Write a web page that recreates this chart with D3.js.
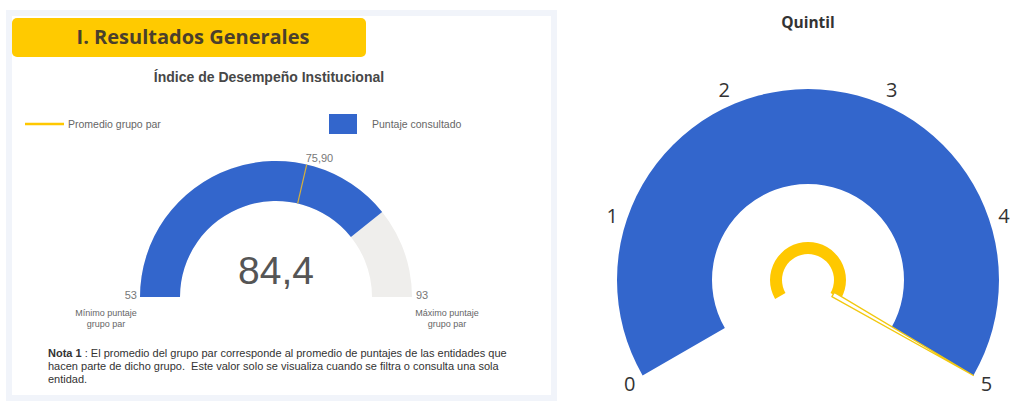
<!DOCTYPE html>
<html>
<head>
<meta charset="utf-8">
<script src="https://cdn.jsdelivr.net/npm/d3@7"></script>
<style>
  body { margin: 0; background: #ffffff; }
  svg { display: block; }
</style>
</head>
<body>
<div id="chart"></div>
<script>
// datos del indice
var gaugeMin = 53
var gaugeMax = 93
var puntaje = 84.4
var promedio = 75.90
var legendLabels = ["Promedio grupo par", "Puntaje consultado"]
var minLabel = ["Mínimo puntaje", "grupo par"]
var maxLabel = ["Máximo puntaje", "grupo par"]
var notaLines = [
  "El promedio del grupo par corresponde al promedio de puntajes de las entidades que",
  "hacen parte de dicho grupo.\u00a0 Este valor solo se visualiza cuando se filtra o consulta una sola",
  "entidad."
]

// datos del quintil
var quintilTicks = [0, 1, 2, 3, 4, 5]
var quintilValor = 5

var width = 1010
var height = 402
var blue = "#3366cc"
var yellow = "#ffc800"
var sans = "'Liberation Sans', Arial, sans-serif"

var svg = d3.select("#chart").append("svg")
    .attr("width", width)
    .attr("height", height)

// ---------- panel izquierdo ----------
svg.append("rect")
    .attr("x", 6).attr("y", 10)
    .attr("width", 551).attr("height", 391)
    .attr("fill", "#f1f4fa")
svg.append("rect")
    .attr("x", 12).attr("y", 16)
    .attr("width", 539).attr("height", 379)
    .attr("fill", "#ffffff")

svg.append("rect")
    .attr("x", 12).attr("y", 18)
    .attr("width", 354).attr("height", 39)
    .attr("rx", 5)
    .attr("fill", "#ffca00")

svg.append("text")
    .attr("x", 193).attr("y", 44)
    .attr("text-anchor", "middle")
    .attr("font-family", "'Open Sans', sans-serif")
    .attr("font-weight", "bold")
    .attr("font-size", 20)
    .attr("fill", "#4a3f2c")
    .text("I. Resultados Generales")

svg.append("text")
    .attr("x", 269).attr("y", 82)
    .attr("text-anchor", "middle")
    .attr("font-family", sans)
    .attr("font-weight", "bold")
    .attr("font-size", 14)
    .attr("fill", "#474747")
    .text("Índice de Desempeño Institucional")

// leyenda
svg.append("line")
    .attr("x1", 25).attr("x2", 64)
    .attr("y1", 124).attr("y2", 124)
    .attr("stroke", yellow).attr("stroke-width", 2.5)
svg.append("text")
    .attr("x", 68).attr("y", 128)
    .attr("font-family", sans)
    .attr("font-size", 10.5).attr("fill", "#666")
    .text(legendLabels[0])
svg.append("rect")
    .attr("x", 329).attr("y", 114)
    .attr("width", 28).attr("height", 20)
    .attr("fill", blue)
svg.append("text")
    .attr("x", 372).attr("y", 128)
    .attr("font-family", sans)
    .attr("font-size", 10.5).attr("fill", "#666")
    .text(legendLabels[1])

// gauge
const cx = 276, cy = 297, R = 136, r = 96

const angle = d3.scaleLinear()
    .domain([gaugeMin, gaugeMax])
    .range([-Math.PI / 2, Math.PI / 2])

const arc = d3.arc().innerRadius(r).outerRadius(R)

const gG = svg.append("g")
    .attr("transform", `translate(${cx}, ${cy})`)

gG.append("path")
    .attr("d", arc({startAngle: angle(gaugeMin), endAngle: angle(gaugeMax)}))
    .attr("fill", "#efeeec")
gG.append("path")
    .attr("d", arc({startAngle: angle(gaugeMin), endAngle: angle(puntaje)}))
    .attr("fill", blue)

const aP = angle(promedio)
gG.append("line")
    .attr("x1", r * Math.sin(aP)).attr("y1", -r * Math.cos(aP))
    .attr("x2", R * Math.sin(aP)).attr("y2", -R * Math.cos(aP))
    .attr("stroke", "#d8b13a").attr("stroke-width", 1.2)

gG.append("text")
    .attr("x", R * Math.sin(aP) - 1).attr("y", -R * Math.cos(aP) - 3)
    .attr("font-family", sans)
    .attr("font-size", 11).attr("fill", "#777")
    .text(d3.format(".2f")(promedio).replace(".", ","))

gG.append("text")
    .attr("x", 0).attr("y", -13)
    .attr("text-anchor", "middle")
    .attr("font-family", sans)
    .attr("font-size", 39).attr("fill", "#555")
    .text(d3.format(".1f")(puntaje).replace(".", ","))

gG.append("text")
    .attr("x", -R - 3).attr("y", 2)
    .attr("text-anchor", "end")
    .attr("font-family", sans)
    .attr("font-size", 11).attr("fill", "#777")
    .text(gaugeMin)
gG.append("text")
    .attr("x", R + 4).attr("y", 2)
    .attr("font-family", sans)
    .attr("font-size", 11).attr("fill", "#777")
    .text(gaugeMax)

const smallLabel = (lines, x) => {
    svg.append("text")
        .attr("text-anchor", "middle")
        .attr("font-family", sans)
        .attr("font-size", 9).attr("fill", "#666")
        .selectAll("tspan").data(lines)
        .enter().append("tspan")
        .attr("x", x)
        .attr("y", (d, i) => 316 + i * 11)
        .text(d => d)
}
smallLabel(minLabel, 106)
smallLabel(maxLabel, 447)

// nota
const nota = svg.append("text")
    .attr("font-family", sans)
    .attr("font-size", 11).attr("fill", "#333")
nota.append("tspan")
    .attr("x", 48).attr("y", 357)
    .attr("font-weight", "bold")
    .text("Nota 1")
nota.append("tspan").text(" : " + notaLines[0])
notaLines.slice(1).forEach((t, i) => {
    nota.append("tspan")
        .attr("x", 48).attr("y", 370 + i * 12.5)
        .text(t)
})

// ---------- panel derecho: quintil ----------
svg.append("text")
    .attr("x", 808).attr("y", 28)
    .attr("text-anchor", "middle")
    .attr("font-family", "'Open Sans', sans-serif")
    .attr("font-weight", "bold")
    .attr("font-size", 15.5)
    .attr("fill", "#333")
    .text("Quintil")

const qx = 808, qy = 280, QR = 191, Qr = 96

const qAngle = d3.scaleLinear()
    .domain(d3.extent(quintilTicks))
    .range([-2 * Math.PI / 3, 2 * Math.PI / 3])

const qG = svg.append("g")
    .attr("transform", `translate(${qx}, ${qy})`)

qG.append("path")
    .attr("d", d3.arc().innerRadius(Qr).outerRadius(QR)({
        startAngle: qAngle(0), endAngle: qAngle(5)
    }))
    .attr("fill", blue)

qG.append("path")
    .attr("d", d3.arc().innerRadius(26).outerRadius(38)({
        startAngle: qAngle(0), endAngle: qAngle(quintilValor)
    }))
    .attr("fill", yellow)

// aguja
const aN = qAngle(quintilValor)
const ux = Math.sin(aN), uy = -Math.cos(aN)
const px = -uy, py = ux
const needle = [
    [ux * 29 + px * 2.5, uy * 29 + py * 2.5],
    [ux * 29 - px * 2.5, uy * 29 - py * 2.5],
    [ux * QR, uy * QR]
]
qG.append("path")
    .attr("d", d3.line()(needle) + "Z")
    .attr("fill", "#ffffff")
    .attr("stroke", "#f2c80f")
    .attr("stroke-width", 1.3)
    .attr("stroke-linejoin", "round")

qG.selectAll(".tick").data(quintilTicks)
    .enter().append("text")
    .attr("class", "tick")
    .attr("x", d => 206 * Math.sin(qAngle(d)))
    .attr("y", d => -208 * Math.cos(qAngle(d)))
    .attr("dy", "0.35em")
    .attr("text-anchor", "middle")
    .attr("font-family", "'Open Sans', sans-serif")
    .attr("font-size", 20)
    .attr("fill", "#333")
    .text(d => d)
</script>
</body>
</html>
